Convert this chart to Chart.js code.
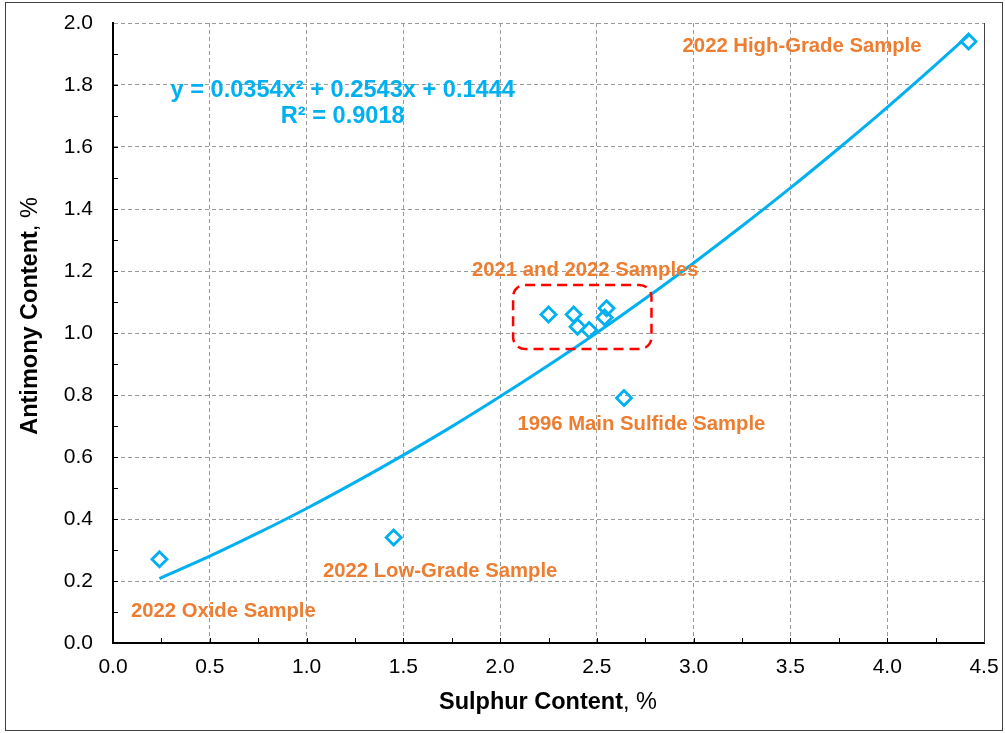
<!DOCTYPE html>
<html lang="en">
<head>
    <meta charset="UTF-8">
    <script src="https://cdn.jsdelivr.net/npm/chart.js@4.4.0/dist/chart.umd.min.js"></script>
    <title>Antimony vs Sulphur</title>
    <style>
        body { margin: 0; background: #fff; }
    </style>
</head>
<body>
    <canvas id="myChart" width="1005" height="733"></canvas>
    <script>
        // sample assays (Sulphur %, Antimony %)
        var sulphur = [0.24, 1.45, 2.25, 2.38, 2.40, 2.46, 2.54, 2.55, 2.64, 4.42];
        var antimony = [0.27, 0.34, 1.06, 1.06, 1.02, 1.01, 1.05, 1.08, 0.79, 1.94];

        // polynomial trendline
        var trendX = [0.24, 0.5, 0.75, 1.0, 1.25, 1.5, 1.75, 2.0, 2.25, 2.5, 2.75, 3.0, 3.25, 3.5, 3.75, 4.0, 4.25, 4.42];
        var trendY = [0.208, 0.280, 0.355, 0.434, 0.518, 0.606, 0.698, 0.795, 0.896, 1.001, 1.111, 1.226, 1.345, 1.468, 1.596, 1.728, 1.865, 1.960];

        var xTicks = [0.0, 0.5, 1.0, 1.5, 2.0, 2.5, 3.0, 3.5, 4.0, 4.5];
        var yTicks = [0.0, 0.2, 0.4, 0.6, 0.8, 1.0, 1.2, 1.4, 1.6, 1.8, 2.0];

        var sampleLabels = ['2022 High-Grade Sample', '2021 and 2022 Samples', '1996 Main Sulfide Sample', '2022 Low-Grade Sample', '2022 Oxide Sample'];
        var equationText = ['y = 0.0354x\u00B2 + 0.2543x + 0.1444', 'R\u00B2 = 0.9018'];

        var blue = '#00B0F0';
        var orange = '#ED7D31';
        var fontFam = '"Liberation Sans", Arial, sans-serif';

        // where the callouts sit, in axis units
        var labelPos = [[3.56, 1.923], [2.44, 1.203], [2.73, 0.706], [1.69, 0.232], [0.57, 0.103]];
        var eqPos = [[1.187, 1.781], [1.187, 1.70]];
        var box = { x0: 2.067, x1: 2.782, y0: 0.948, y1: 1.155 };

        var extras = {
            id: 'extras',
            beforeDraw: function (chart) {
                var ctx = chart.ctx;
                ctx.save();
                ctx.fillStyle = '#fff';
                ctx.fillRect(0, 0, chart.width, chart.height);
                ctx.restore();
            },
            beforeDatasetsDraw: function (chart) {
                var ctx = chart.ctx, xs = chart.scales.x, ys = chart.scales.y, a = chart.chartArea;
                ctx.save();
                // right frame line
                ctx.strokeStyle = '#404040';
                ctx.lineWidth = 1;
                ctx.beginPath();
                ctx.moveTo(a.right + 0.5, a.top);
                ctx.lineTo(a.right + 0.5, a.bottom);
                ctx.stroke();
                // small inner ticks
                ctx.strokeStyle = '#000';
                ctx.lineWidth = 1;
                ctx.beginPath();
                for (var v = 0.25; v < 4.5; v += 0.25) {
                    var px = Math.round(xs.getPixelForValue(v)) + 0.5;
                    ctx.moveTo(px, a.bottom);
                    ctx.lineTo(px, a.bottom - 5);
                }
                for (var w = 1; w < 20; w++) {
                    var py = Math.round(ys.getPixelForValue(w / 10)) + 0.5;
                    ctx.moveTo(a.left, py);
                    ctx.lineTo(a.left + 5, py);
                }
                ctx.stroke();
                ctx.restore();
            },
            afterDatasetsDraw: function (chart) {
                var ctx = chart.ctx, xs = chart.scales.x, ys = chart.scales.y;
                ctx.save();
                // red dashed box round the cluster
                var bx0 = xs.getPixelForValue(box.x0), bx1 = xs.getPixelForValue(box.x1);
                var by0 = ys.getPixelForValue(box.y1), by1 = ys.getPixelForValue(box.y0);
                ctx.strokeStyle = '#FF0000';
                ctx.lineWidth = 2.5;
                ctx.setLineDash([10, 6]);
                ctx.beginPath();
                ctx.roundRect(bx0, by0, bx1 - bx0, by1 - by0, 12);
                ctx.stroke();
                ctx.setLineDash([]);

                ctx.textAlign = 'center';
                ctx.textBaseline = 'middle';
                ctx.fillStyle = orange;
                ctx.font = 'bold 20.3px ' + fontFam;
                sampleLabels.forEach(function (t, i) {
                    ctx.fillText(t, xs.getPixelForValue(labelPos[i][0]), ys.getPixelForValue(labelPos[i][1]));
                });
                ctx.fillStyle = blue;
                ctx.font = 'bold 23.6px ' + fontFam;
                equationText.forEach(function (t, i) {
                    ctx.fillText(t, xs.getPixelForValue(eqPos[i][0]), ys.getPixelForValue(eqPos[i][1]));
                });

                // axis titles, bold part + plain part
                function title(boldPart, plainPart, cx, cy, rot) {
                    ctx.save();
                    ctx.translate(cx, cy);
                    ctx.rotate(rot);
                    ctx.textBaseline = 'middle';
                    ctx.textAlign = 'left';
                    ctx.fillStyle = '#000';
                    ctx.font = 'bold 23.5px ' + fontFam;
                    var wb = ctx.measureText(boldPart).width;
                    ctx.font = '23.5px ' + fontFam;
                    var wp = ctx.measureText(plainPart).width;
                    var start = -(wb + wp) / 2;
                    ctx.font = 'bold 23.5px ' + fontFam;
                    ctx.fillText(boldPart, start, 0);
                    ctx.font = '23.5px ' + fontFam;
                    ctx.fillText(plainPart, start + wb, 0);
                    ctx.restore();
                }
                title('Sulphur Content', ', %', 548, 703, 0);
                title('Antimony Content', ', %', 31, 316, -Math.PI / 2);

                // outer frame
                ctx.strokeStyle = '#404040';
                ctx.lineWidth = 1;
                ctx.strokeRect(5.5, 2.5, 997, 728);
                ctx.restore();
            }
        };

        var ctx = document.getElementById('myChart').getContext('2d');
        var myChart = new Chart(ctx, {
            type: 'scatter',
            data: {
                datasets: [{
                    label: 'Trend',
                    data: trendX.map(function (x, i) { return { x: x, y: trendY[i] }; }),
                    showLine: true,
                    borderColor: blue,
                    borderWidth: 3,
                    pointRadius: 0,
                    tension: 0.4,
                    cubicInterpolationMode: 'monotone',
                    order: 2
                }, {
                    label: 'Samples',
                    data: sulphur.map(function (x, i) { return { x: x, y: antimony[i] }; }),
                    pointStyle: 'rectRot',
                    pointRadius: 7.5,
                    pointBorderWidth: 2.8,
                    borderColor: blue,
                    backgroundColor: 'rgba(0,0,0,0)',
                    order: 1
                }]
            },
            options: {
                responsive: false,
                animation: false,
                layout: { padding: { left: 0, top: 23, right: 21, bottom: 0 } },
                plugins: { legend: { display: false }, tooltip: { enabled: false } },
                scales: {
                    x: {
                        type: 'linear',
                        min: 0, max: 4.5,
                        afterBuildTicks: function (s) { s.ticks = xTicks.map(function (v) { return { value: v }; }); },
                        afterFit: function (s) { s.height = 90; s.paddingLeft = 0; s.paddingRight = 0; },
                        ticks: {
                            callback: function (v) { return v.toFixed(1); },
                            color: '#000',
                            padding: 12,
                            maxRotation: 0,
                            font: { family: fontFam, size: 21 }
                        },
                        grid: {
                            drawTicks: false,
                            color: function (c) { return (c.tick && (c.tick.value === 0 || c.tick.value === 4.5)) ? 'rgba(0,0,0,0)' : '#9a9a9a'; },
                            lineWidth: 1
                        },
                        border: { color: '#000', width: 2, dash: [4, 3] }
                    },
                    y: {
                        type: 'linear',
                        min: 0, max: 2,
                        afterBuildTicks: function (s) { s.ticks = yTicks.map(function (v) { return { value: v }; }); },
                        afterFit: function (s) { s.width = 113; s.paddingTop = 0; s.paddingBottom = 0; },
                        ticks: {
                            callback: function (v) { return v.toFixed(1); },
                            color: '#000',
                            padding: 20,
                            font: { family: fontFam, size: 21 }
                        },
                        grid: {
                            drawTicks: false,
                            color: function (c) { return (c.tick && c.tick.value === 0) ? 'rgba(0,0,0,0)' : '#9a9a9a'; },
                            lineWidth: 1
                        },
                        border: { color: '#000', width: 2, dash: [4, 3] }
                    }
                }
            },
            plugins: [extras]
        });
    </script>
</body>
</html>
